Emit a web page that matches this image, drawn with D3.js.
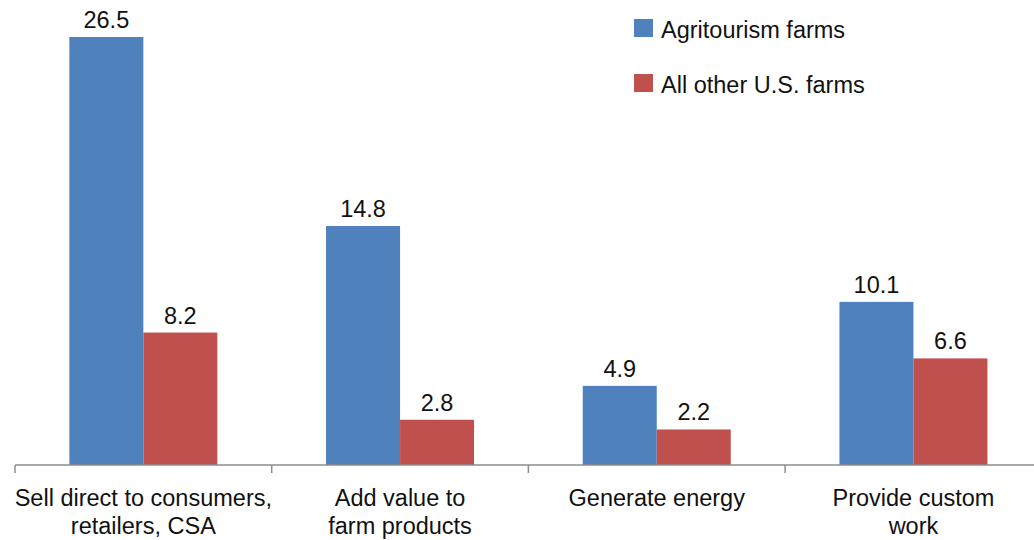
<!DOCTYPE html>
<html>
<head>
<meta charset="utf-8">
<script src="https://cdn.jsdelivr.net/npm/d3@7"></script>
<style>
  html, body { margin: 0; padding: 0; background: #fff; }
  svg { display: block; font-family: "Liberation Sans", Arial, Helvetica, sans-serif; }
</style>
</head>
<body>
<svg id="chart" width="1034" height="540"></svg>
<script>
// Share of farms engaged in each activity (percent)
const categories = [
  ["Sell direct to consumers,", "retailers, CSA"],
  ["Add value to", "farm products"],
  ["Generate energy"],
  ["Provide custom", "work"]
];
const seriesNames = ["Agritourism farms", "All other U.S. farms"];
const agritourism = [26.5, 14.8, 4.9, 10.1];
const allOther = [8.2, 2.8, 2.2, 6.6];
const colors = ["#4f81bd", "#c0504d"];

const svg = d3.select("#chart");
const baseY = 465;
const left = 15;
const step = 256.7;
const keys = categories.map((c, i) => i);

const x = d3.scaleBand()
  .domain(keys)
  .range([left, left + step * categories.length])
  .paddingInner(0)
  .paddingOuter(0);

// two bars per category, touching, centred in the band
const xInner = d3.scaleBand()
  .domain([0, 1])
  .range([0, x.bandwidth()])
  .paddingOuter(0.7345)
  .paddingInner(0);

const y = d3.scaleLinear().domain([0, 26.5]).range([baseY, 37]);

const series = [agritourism, allOther];

const groups = svg.append("g").selectAll("g")
  .data(keys)
  .join("g")
  .attr("transform", d => `translate(${x(d)},0)`);

groups.selectAll("rect")
  .data(d => series.map((s, si) => ({ si, v: s[d] })))
  .join("rect")
  .attr("x", d => xInner(d.si))
  .attr("width", xInner.bandwidth())
  .attr("y", d => y(d.v))
  .attr("height", d => baseY - y(d.v))
  .attr("fill", d => colors[d.si]);

groups.selectAll("text.val")
  .data(d => series.map((s, si) => ({ si, v: s[d] })))
  .join("text")
  .attr("class", "val")
  .attr("x", d => xInner(d.si) + xInner.bandwidth() / 2)
  .attr("y", d => y(d.v) - 9)
  .attr("text-anchor", "middle")
  .attr("font-size", 23.5)
  .attr("fill", "#111")
  .text(d => d.v.toFixed(1));

// Category axis
const axis = svg.append("g");
axis.append("line")
  .attr("x1", left).attr("x2", 1034)
  .attr("y1", baseY).attr("y2", baseY)
  .attr("stroke", "#8c8c8c").attr("stroke-width", 1.5);

axis.selectAll("line.tick")
  .data(d3.range(categories.length + 1))
  .join("line")
  .attr("class", "tick")
  .attr("x1", i => left + i * step).attr("x2", i => left + i * step)
  .attr("y1", baseY).attr("y2", baseY + 8)
  .attr("stroke", "#8c8c8c").attr("stroke-width", 1.5);

axis.selectAll("text.cat")
  .data(keys)
  .join("text")
  .attr("class", "cat")
  .attr("x", d => x(d) + x.bandwidth() / 2)
  .attr("y", 506)
  .attr("text-anchor", "middle")
  .attr("font-size", 23.5)
  .attr("fill", "#111")
  .selectAll("tspan")
  .data(d => categories[d])
  .join("tspan")
  .attr("x", function () { return d3.select(this.parentNode).attr("x"); })
  .attr("dy", (d, i) => i === 0 ? 0 : 28)
  .text(d => d);

// Legend
const legend = svg.append("g").selectAll("g")
  .data(seriesNames)
  .join("g")
  .attr("transform", (d, i) => `translate(634,${19 + i * 55})`);

legend.append("rect")
  .attr("width", 19).attr("height", 18)
  .attr("fill", (d, i) => colors[i]);

legend.append("text")
  .attr("x", 27).attr("y", 19)
  .attr("font-size", 23.5)
  .attr("fill", "#111")
  .text(d => d);
</script>
</body>
</html>
